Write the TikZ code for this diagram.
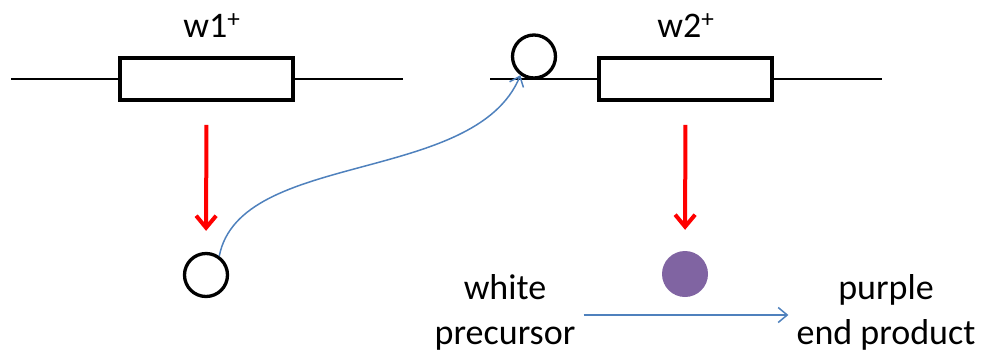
\documentclass[tikz,border=0pt]{standalone}
\usepackage{fontspec}
\setmainfont{Carlito}
\usetikzlibrary{arrows.meta}
\definecolor{dotpurple}{HTML}{8064A2}
\definecolor{curveblue}{HTML}{4F81BD}
\begin{document}
\begin{tikzpicture}[x=1pt,y=-1pt,
  wire/.style={line width=2.2pt},
  resbox/.style={draw, line width=3.6pt, fill=white, minimum width=173pt, minimum height=42pt, inner sep=0pt},
  ring/.style={circle, draw, line width=3.3pt, fill=white, minimum size=43pt, inner sep=0pt},
  dot/.style={circle, fill=dotpurple, minimum size=46pt, inner sep=0pt},
  lbl/.style={font=\fontsize{36}{45}\selectfont, inner sep=0pt},
  twoline/.style={font=\fontsize{36}{45}\selectfont, align=center, inner sep=8pt},
  redarrow/.style={draw=red, line width=4pt, -{Straight Barb[length=12pt, width=20pt]}},
  bluearrow/.style={draw=curveblue, line width=1.5pt, -{Straight Barb[length=9pt, width=15pt]}}]
\useasboundingbox (0,0) rectangle (987,354);
% wires
\coordinate (l1a) at (11,79);
\coordinate (l1b) at (403,79);
\coordinate (l2a) at (490,79);
\coordinate (l2b) at (882,79);
\draw[wire] (l1a) -- (l1b);
\draw[wire] (l2a) -- (l2b);
% boxes
\node[resbox] (r1) at (206.5,79) {};
\node[resbox] (r2) at (685.5,79) {};
\node[lbl, anchor=base] (w1) at (212,37) {w1\textsuperscript{+}};
\node[lbl, anchor=base] (w2) at (686,37) {w2\textsuperscript{+}};
% circles
\node[ring] (c1) at (206,275) {};
\node[ring] (c2) at (534,56.5) {};
\node[dot] (pd) at (685,274) {};
% red arrows
\draw[redarrow, shorten <=23pt, shorten >=21pt] (r1.south) -- (c1.north);
\draw[redarrow, shorten <=23pt, shorten >=21pt] (r2.south) -- (pd.north);
% blue curve
\draw[bluearrow] (c1.55) .. controls (240,150) and (475,185) .. (c2.234);
% texts
\node[twoline] (wp) at (505,312) {white\\precursor};
\node[twoline] (pe) at (886,312) {purple\\end product};
\draw[bluearrow] ([yshift=-3pt]wp.east) -- ([yshift=-3pt]pe.west);
\end{tikzpicture}
\end{document}
